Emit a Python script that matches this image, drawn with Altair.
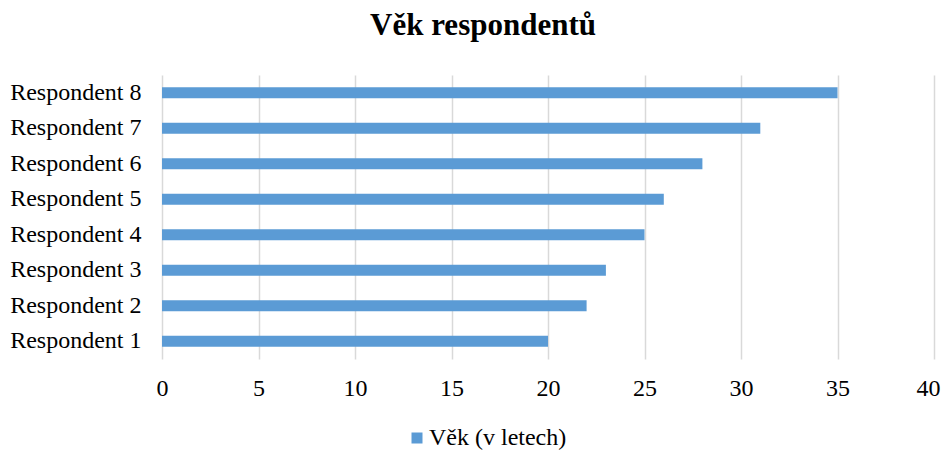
import altair as alt
import pandas as pd

categories = ["Respondent 1", "Respondent 2", "Respondent 3", "Respondent 4",
              "Respondent 5", "Respondent 6", "Respondent 7", "Respondent 8"]
values = [20, 22, 23, 25, 26, 28, 31, 35]
series_name = "Věk (v letech)"
x_ticks = [0, 5, 10, 15, 20, 25, 30, 35, 40]

df = pd.DataFrame({"resp": categories, "age": values, "series": [series_name] * len(values)})

FONT = "Liberation Serif"

chart = alt.Chart(df).mark_bar(color="#5B9BD5").encode(
    y=alt.Y("resp:N", sort=list(reversed(categories)),
            scale=alt.Scale(paddingInner=0.69, paddingOuter=0.345),
            axis=alt.Axis(title=None, domain=False, ticks=False, grid=False,
                          labelFont=FONT, labelFontSize=24, labelColor="#000000",
                          labelPadding=21)),
    x=alt.X("age:Q", scale=alt.Scale(domain=[0, 40], nice=False),
            axis=alt.Axis(title=None, domain=False, ticks=False, values=x_ticks,
                          grid=True, gridColor="#d9d9d9", gridWidth=1.5,
                          labelFont=FONT, labelFontSize=24, labelColor="#000000",
                          labelFlush=True, labelFlushOffset=6,
                          labelPadding=17)),
    color=alt.Color("series:N", scale=alt.Scale(range=["#5B9BD5"]),
                    legend=alt.Legend(title=None, orient="none", legendX=243, legendY=351,
                                      symbolType="square", symbolSize=121,
                                      symbolStrokeWidth=0,
                                      labelFont=FONT, labelFontSize=24, labelColor="#000000",
                                      labelOffset=0)),
).properties(
    width=772, height=284,
    title=alt.TitleParams("Věk respondentů", font=FONT, fontSize=31, fontWeight="bold",
                          color="#000000", anchor="middle", dx=-65, offset=33),
    autosize=alt.AutoSizeParams(type="none"),
    padding={"left": 154, "top": 67, "right": 7, "bottom": 92},
).configure_view(stroke=None)

chart.save("out.html", embed_options={"renderer": "svg", "actions": False})
